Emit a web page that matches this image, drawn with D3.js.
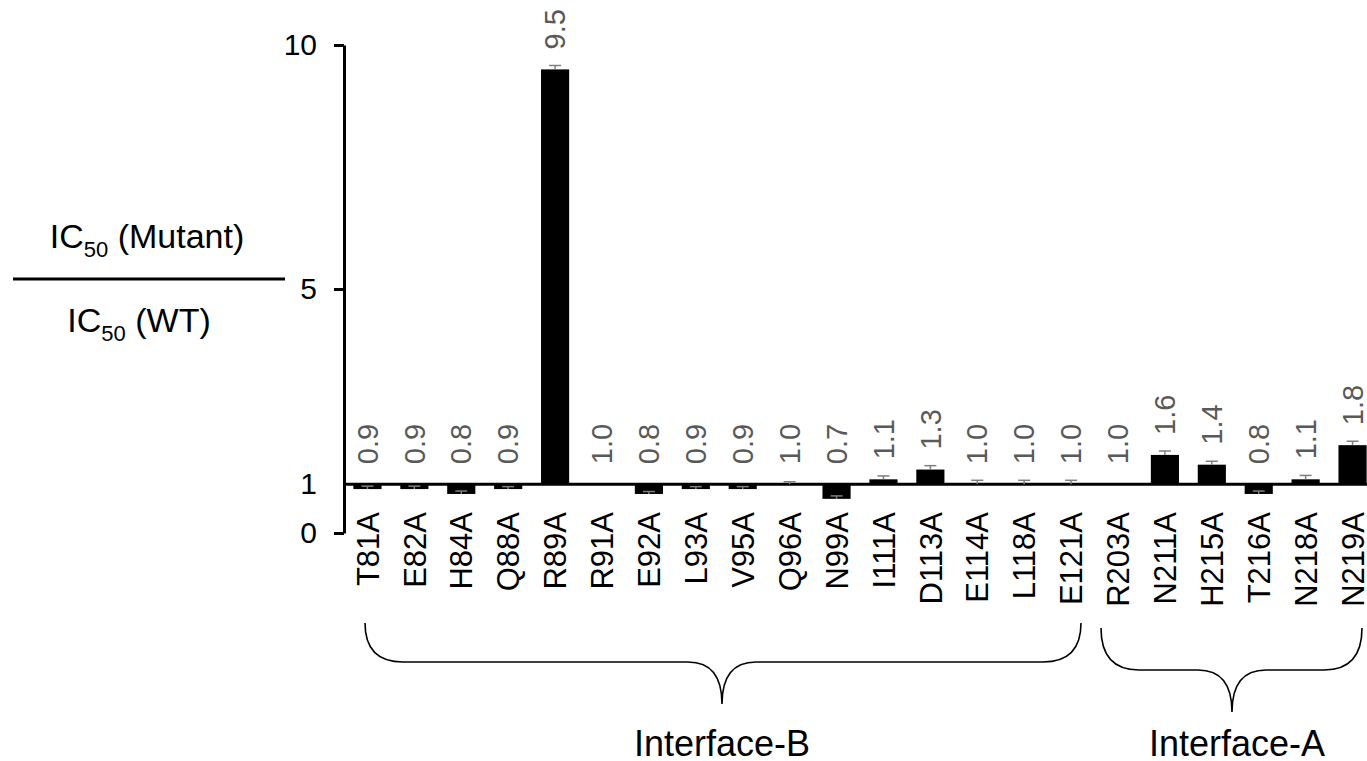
<!DOCTYPE html>
<html>
<head>
    <title>IC50 ratio per mutant</title>
    <script src="https://d3js.org/d3.v7.min.js"></script>
    <style>
        body { margin: 0; background: #fff; }
        text { font-family: "Liberation Sans", Arial, sans-serif; }
        .axis path, .axis line { stroke: #000; stroke-width: 3px; }
        .axis text { font-size: 30px; fill: #000; }
        .cat { font-size: 31px; fill: #000; }
        .val { font-size: 29px; fill: #595959; }
        .err { stroke: #7f7f7f; stroke-width: 1.5px; }
        .brace { fill: none; stroke: #000; stroke-width: 1.6px; }
    </style>
</head>
<body>
<div id="chart"></div>
<script>
    const width = 1367;
    const height = 761;

    // data
    const mutants = ["T81A", "E82A", "H84A", "Q88A", "R89A", "R91A", "E92A", "L93A", "V95A", "Q96A", "N99A",
                     "I111A", "D113A", "E114A", "L118A", "E121A", "R203A", "N211A", "H215A", "T216A", "N218A", "N219A"];
    const ratios = [0.9, 0.9, 0.8, 0.9, 9.5, 1.0, 0.8, 0.9, 0.9, 1.0, 0.7,
                    1.1, 1.3, 1.0, 1.0, 1.0, 1.0, 1.6, 1.4, 0.8, 1.1, 1.8];
    const errors = [0.06, 0.06, 0.06, 0.05, 0.08, 0, 0.05, 0.05, 0.05, 0.05, 0.06,
                    0.07, 0.08, 0.08, 0.08, 0.08, 0, 0.08, 0.07, 0.06, 0.08, 0.08];
    const yTicks = [0, 1, 5, 10];
    const groups = [
        { name: "Interface-B", first: "T81A", last: "E121A" },
        { name: "Interface-A", first: "R203A", last: "N219A" }
    ];

    const svg = d3.select("#chart").append("svg")
        .attr("width", width)
        .attr("height", height);

    const axisX = 344;
    const x = d3.scaleBand()
        .domain(mutants)
        .range([axisX, 1376])
        .paddingInner(0.4)
        .paddingOuter(0.2);

    const y = d3.scaleLinear()
        .domain([0, 10])
        .range([533, 45]);

    const rows = mutants.map((m, i) => ({ name: m, v: ratios[i], e: errors[i] }));

    // bars grow from the ratio 1 line
    svg.selectAll("rect.bar")
        .data(rows)
        .enter()
        .append("rect")
        .attr("class", "bar")
        .attr("x", d => x(d.name))
        .attr("width", x.bandwidth())
        .attr("y", d => Math.min(y(d.v), y(1)))
        .attr("height", d => Math.abs(y(d.v) - y(1)))
        .attr("fill", "#000");

    // baseline at 1
    svg.append("line")
        .attr("x1", axisX)
        .attr("x2", width)
        .attr("y1", y(1))
        .attr("y2", y(1))
        .attr("stroke", "#000")
        .attr("stroke-width", 3);

    // error bars (plus side only)
    const withErr = rows.filter(d => d.e > 0);
    const capHalf = 6;
    svg.selectAll("line.stem")
        .data(withErr)
        .enter()
        .append("line")
        .attr("class", "err")
        .attr("x1", d => x(d.name) + x.bandwidth() / 2)
        .attr("x2", d => x(d.name) + x.bandwidth() / 2)
        .attr("y1", d => y(d.v))
        .attr("y2", d => y(d.v + d.e));
    svg.selectAll("line.cap")
        .data(withErr)
        .enter()
        .append("line")
        .attr("class", "err")
        .attr("x1", d => x(d.name) + x.bandwidth() / 2 - capHalf)
        .attr("x2", d => x(d.name) + x.bandwidth() / 2 + capHalf)
        .attr("y1", d => y(d.v + d.e))
        .attr("y2", d => y(d.v + d.e));

    // value labels
    svg.selectAll("text.val")
        .data(rows)
        .enter()
        .append("text")
        .attr("class", "val")
        .attr("transform", d => `translate(${x(d.name) + x.bandwidth() / 2},${y(Math.max(d.v, 1)) - 20}) rotate(-90)`)
        .attr("dy", "0.35em")
        .attr("text-anchor", "start")
        .text(d => d3.format(".1f")(d.v));

    // category labels
    svg.selectAll("text.cat")
        .data(rows)
        .enter()
        .append("text")
        .attr("class", "cat")
        .attr("transform", d => `translate(${x(d.name) + x.bandwidth() / 2},512) rotate(-90)`)
        .attr("dy", "0.36em")
        .attr("text-anchor", "end")
        .text(d => d.name);

    // y axis
    const yAxis = svg.append("g")
        .attr("class", "axis")
        .attr("transform", `translate(${axisX},0)`)
        .call(d3.axisLeft(y).tickValues(yTicks).tickSize(10).tickSizeOuter(0).tickPadding(17));
    yAxis.selectAll(".tick").filter(d => d === 1).select("line").remove();

    // y title as a fraction
    const titleX = 147;
    const numer = svg.append("text")
        .attr("x", titleX)
        .attr("y", 248)
        .attr("text-anchor", "middle")
        .style("font-size", "34px");
    numer.append("tspan").text("IC");
    numer.append("tspan").attr("dy", 9).style("font-size", "22px").text("50");
    numer.append("tspan").attr("dy", -9).text(" (Mutant)");

    svg.append("line")
        .attr("x1", 13)
        .attr("x2", 285)
        .attr("y1", 279)
        .attr("y2", 279)
        .attr("stroke", "#000")
        .attr("stroke-width", 3);

    const denom = svg.append("text")
        .attr("x", titleX - 8)
        .attr("y", 332)
        .attr("text-anchor", "middle")
        .style("font-size", "34px");
    denom.append("tspan").text("IC");
    denom.append("tspan").attr("dy", 9).style("font-size", "22px").text("50");
    denom.append("tspan").attr("dy", -9).text(" (WT)");

    // curly braces under the groups
    function bracePath(x0, x1, xc, yTop, yMid, yTip, r, rt) {
        return `M${x0},${yTop} Q${x0},${yMid} ${x0 + r},${yMid} L${xc - rt},${yMid} ` +
               `Q${xc},${yMid} ${xc},${yTip} Q${xc},${yMid} ${xc + rt},${yMid} ` +
               `L${x1 - r},${yMid} Q${x1},${yMid} ${x1},${yTop}`;
    }

    const braceGeo = [
        { x0: 365, x1: 1081, xc: 722, yTop: 623, yMid: 662, yTip: 704, tx: 722 },
        { x0: 1101, x1: 1362, xc: 1232, yTop: 628, yMid: 670, yTip: 712, tx: 1237 }
    ];

    groups.forEach((g, i) => {
        const b = braceGeo[i];
        svg.append("path")
            .attr("class", "brace")
            .attr("d", bracePath(b.x0, b.x1, b.xc, b.yTop, b.yMid, b.yTip, 38, 34));
        svg.append("text")
            .attr("x", b.tx)
            .attr("y", 756)
            .attr("text-anchor", "middle")
            .style("font-size", "36px")
            .text(g.name);
    });
</script>
</body>
</html>
